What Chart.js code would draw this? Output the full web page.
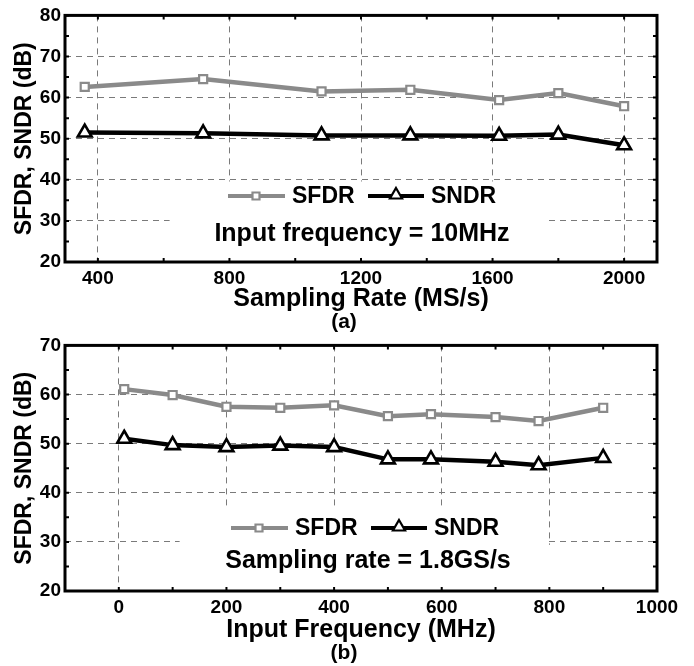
<!DOCTYPE html>
<html>
<head>
<meta charset="utf-8">
<script src="https://cdn.jsdelivr.net/npm/chart.js@4/dist/chart.umd.min.js"></script>
<style>
  html, body { margin: 0; padding: 0; background: #fff; }
  body { width: 694px; height: 666px; position: relative; overflow: hidden; }
  .wrap { position: absolute; left: 0; }
  .cap { position: absolute; width: 694px; left: 0; text-align: center; font: bold 21px "Liberation Sans", Arial, sans-serif; color: #000; }
</style>
</head>
<body>
<div class="wrap" style="top:0;width:694px;height:330px"><canvas id="c1" width="694" height="330"></canvas></div>
<div class="wrap" style="top:330px;width:694px;height:336px"><canvas id="c2" width="694" height="336"></canvas></div>
<div class="cap" id="capA" style="top:309px;left:-3px">(a)</div>
<div class="cap" id="capB" style="top:640px;left:-3px">(b)</div>
<script>
// ---------- Data (a) ----------
const rateMSs   = [360, 720, 1080, 1350, 1620, 1800, 2000];
const sfdrA     = [62.6, 64.5, 61.5, 61.9, 59.4, 61.1, 57.9];
const sndrA     = [51.5, 51.3, 50.8, 50.8, 50.7, 51.0, 48.4];
const xTicksA   = [400, 800, 1200, 1600, 2000];
const xMinorA   = [400, 600, 800, 1000, 1200, 1400, 1600, 1800, 2000];
const yTicksA   = [20, 30, 40, 50, 60, 70, 80];

// ---------- Data (b) ----------
const freqMHz   = [10, 100, 200, 300, 400, 500, 580, 700, 780, 900];
const sfdrB     = [61.1, 59.9, 57.5, 57.3, 57.8, 55.6, 56.0, 55.4, 54.6, 57.3];
const sndrB     = [51.0, 49.7, 49.3, 49.6, 49.3, 46.8, 46.8, 46.3, 45.6, 47.1];
const xTicksB   = [0, 200, 400, 600, 800, 1000];
const xMinorB   = [0, 100, 200, 300, 400, 500, 600, 700, 800, 900, 1000];
const yTicksB   = [20, 30, 40, 50, 60, 70];

const seriesNames = ['SFDR', 'SNDR'];
const FONT = '"Liberation Sans", Arial, sans-serif';
const GRAY = '#8a8a8a';
const GRID = '#7a7a7a';

function pts(xs, ys) { return xs.map((x, i) => ({ x: x, y: ys[i] })); }

function drawMarker(ctx, style, x, y, r, color) {
  ctx.save();
  ctx.fillStyle = '#fff';
  ctx.strokeStyle = color;
  ctx.lineWidth = 2.2;
  ctx.beginPath();
  if (style === 'rect') {
    ctx.rect(x - r, y - r, 2 * r, 2 * r);
  } else {
    ctx.moveTo(x, y - r);
    ctx.lineTo(x + r * 0.866, y + r * 0.5);
    ctx.lineTo(x - r * 0.866, y + r * 0.5);
    ctx.closePath();
  }
  ctx.fill();
  ctx.stroke();
  ctx.restore();
}

const decoPlugin = {
  id: 'deco',
  beforeDatasetsDraw(chart, args, o) {
    const { ctx } = chart;
    const xs = chart.scales.x, ys = chart.scales.y;
    ctx.save();
    ctx.fillStyle = '#fff';
    o.boxes.forEach(b => {
      const x0 = xs.getPixelForValue(b[0]), x1 = xs.getPixelForValue(b[1]);
      const y0 = ys.getPixelForValue(b[2]), y1 = ys.getPixelForValue(b[3]);
      ctx.fillRect(x0, y0, x1 - x0, y1 - y0);
    });
    ctx.restore();
  },
  afterDraw(chart, args, o) {
    const { ctx, chartArea: a } = chart;
    const xs = chart.scales.x, ys = chart.scales.y;
    ctx.save();
    // inward ticks
    ctx.strokeStyle = '#000';
    ctx.lineWidth = 2;
    ctx.beginPath();
    o.xMinor.forEach(v => {
      const px = xs.getPixelForValue(v);
      ctx.moveTo(px, a.bottom); ctx.lineTo(px, a.bottom - 4);
      ctx.moveTo(px, a.top); ctx.lineTo(px, a.top + 4);
    });
    for (let v = ys.min; v <= ys.max; v += 5) {
      const py = ys.getPixelForValue(v);
      ctx.moveTo(a.left, py); ctx.lineTo(a.left + 4, py);
      ctx.moveTo(a.right, py); ctx.lineTo(a.right - 4, py);
    }
    ctx.stroke();
    // frame
    ctx.lineWidth = 3;
    ctx.strokeRect(a.left, a.top, a.right - a.left, a.bottom - a.top);

    // legend
    const L = o.legend;
    const ds = chart.data.datasets;
    ctx.lineWidth = 4;
    ctx.font = 'bold 23px ' + FONT;
    ctx.textBaseline = 'middle';
    ctx.textAlign = 'left';
    // SFDR
    ctx.strokeStyle = ds[0].borderColor;
    ctx.beginPath(); ctx.moveTo(L.x0, L.y); ctx.lineTo(L.x0 + 57, L.y); ctx.stroke();
    drawMarker(ctx, 'rect', L.x0 + 28, L.y, 3.5, ds[0].borderColor);
    ctx.fillStyle = '#000';
    ctx.fillText(ds[0].label, L.x0 + 64, L.y + 1);
    // SNDR
    ctx.strokeStyle = ds[1].borderColor;
    ctx.lineWidth = 4;
    ctx.beginPath(); ctx.moveTo(L.x1, L.y); ctx.lineTo(L.x1 + 56, L.y); ctx.stroke();
    drawMarker(ctx, 'tri', L.x1 + 28, L.y - 1, 7, ds[1].borderColor);
    ctx.fillStyle = '#000';
    ctx.fillText(ds[1].label, L.x1 + 63, L.y + 1);

    // annotation
    ctx.font = 'bold 25px ' + FONT;
    ctx.textAlign = 'center';
    ctx.fillText(o.note.text, o.note.x, o.note.y);
    ctx.restore();
  }
};

function makeChart(id, cfg) {
  const ctx = document.getElementById(id).getContext('2d');
  return new Chart(ctx, {
    type: 'line',
    data: {
      datasets: [
        {
          label: seriesNames[0],
          data: pts(cfg.xs, cfg.sfdr),
          borderColor: GRAY, borderWidth: 4.5,
          pointStyle: 'rect', pointRadius: 5.7, pointBorderWidth: 2.2,
          pointBackgroundColor: '#fff', pointBorderColor: GRAY,
          tension: 0, clip: false
        },
        {
          label: seriesNames[1],
          data: pts(cfg.xs, cfg.sndr),
          borderColor: '#000', borderWidth: 4.5,
          pointStyle: 'triangle', pointRadius: 8, pointBorderWidth: 2.6,
          pointBackgroundColor: '#fff', pointBorderColor: '#000',
          tension: 0, clip: false
        }
      ]
    },
    options: {
      responsive: false,
      animation: false,
      devicePixelRatio: 1,
      layout: { padding: { top: cfg.padTop, right: 37, left: 0, bottom: 0 } },
      plugins: {
        legend: { display: false },
        tooltip: { enabled: false },
        deco: { boxes: cfg.boxes, xMinor: cfg.xMinor, legend: cfg.legend, note: cfg.note }
      },
      scales: {
        x: {
          type: 'linear',
          min: cfg.xMin, max: cfg.xMax,
          afterBuildTicks: s => { s.ticks = cfg.xTicks.map(v => ({ value: v })); },
          afterFit: s => { s.height = cfg.xHeight; },
          grid: { color: GRID, lineWidth: 1, drawTicks: false, drawOnChartArea: true },
          border: { display: false, dash: [6, 5] },
          ticks: { color: '#000', font: { family: FONT, size: 19, weight: 'bold' }, padding: 5, maxRotation: 0,
                   callback: v => String(v) },
          title: { display: true, text: cfg.xTitle, color: '#000',
                   font: { family: FONT, size: 25, weight: 'bold' }, padding: { top: 0, bottom: cfg.titlePadB } }
        },
        y: {
          type: 'linear',
          min: cfg.yTicks[0], max: cfg.yTicks[cfg.yTicks.length - 1],
          afterBuildTicks: s => { s.ticks = cfg.yTicks.map(v => ({ value: v })); },
          afterFit: s => { s.width = 65; },
          grid: { color: GRID, lineWidth: 1, drawTicks: false },
          border: { display: false, dash: [6, 5] },
          ticks: { color: '#000', font: { family: FONT, size: 19, weight: 'bold' }, padding: 4,
                   callback: v => String(v) },
          title: { display: true, text: 'SFDR, SNDR (dB)', color: '#000',
                   font: { family: FONT, size: 23, weight: 'bold' }, padding: { top: 11, bottom: 0 } }
        }
      }
    },
    plugins: [decoPlugin]
  });
}

makeChart('c1', {
  xs: rateMSs, sfdr: sfdrA, sndr: sndrA,
  xMin: 300, xMax: 2100, xTicks: xTicksA, xMinor: xMinorA, yTicks: yTicksA,
  padTop: 14, xHeight: 68, titlePadB: 16,
  xTitle: 'Sampling Rate (MS/s)',
  boxes: [[618, 1761, 39.6, 21]],
  legend: { x0: 228, x1: 368, y: 196 },
  note: { text: 'Input frequency = 10MHz', x: 362, y: 234 }
});

makeChart('c2', {
  xs: freqMHz, sfdr: sfdrB, sndr: sndrB,
  xMin: -100, xMax: 1000, xTicks: xTicksB, xMinor: xMinorB, yTicks: yTicksB,
  padTop: 15, xHeight: 75, titlePadB: 21,
  xTitle: 'Input Frequency (MHz)',
  boxes: [[113, 794, 36.9, 20], [794, 1000, 29.4, 20]],
  legend: { x0: 231, x1: 371, y: 198 },
  note: { text: 'Sampling rate = 1.8GS/s', x: 368, y: 231 }
});
</script>
</body>
</html>
